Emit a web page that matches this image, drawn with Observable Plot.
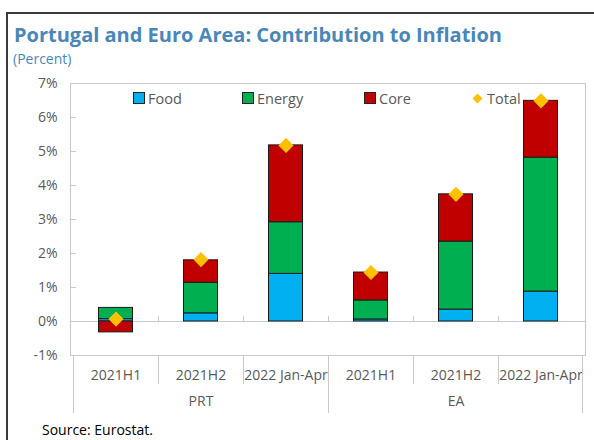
<!DOCTYPE html>
<html>
<head>
<meta charset="utf-8">
<script src="https://cdn.jsdelivr.net/npm/d3@7"></script>
<script src="https://cdn.jsdelivr.net/npm/@observablehq/plot@0.6"></script>
<style>
  html, body { margin: 0; padding: 0; background: #fff; }
  #wrap { position: relative; width: 594px; height: 440px; overflow: hidden; font-family: "Open Sans", "Noto Sans", sans-serif; }
  #outer { position: absolute; left: 6px; top: 12px; width: 600px; height: 440px; border-left: 2px solid #3a3a3a; border-top: 2px solid #3a3a3a; }
  #title { position: absolute; left: 14px; top: 21px; font-size: 20px; font-weight: 700; color: #4a86b8; white-space: nowrap; }
  #subtitle { position: absolute; left: 13px; top: 49px; font-size: 14px; color: #4a86b8; }
  #chart { position: absolute; left: 0; top: 75px; }
  #legend { position: absolute; top: 88px; left: 0; width: 594px; height: 20px; font-size: 14.5px; color: #595959; }
  .li { position: absolute; top: 0; display: flex; align-items: center; height: 20px; }
  .sw { width: 10px; height: 10px; border: 1px solid #222; margin-right: 3px; }
  .dm { width: 7px; height: 7px; background: #FFC000; transform: rotate(45deg); margin-right: 6px; margin-left: 1px; }
  #source { position: absolute; left: 42px; top: 420px; font-size: 14px; color: #000; }
</style>
</head>
<body>
<div id="wrap">
  <div id="outer"></div>
  <div id="title">Portugal and Euro Area: Contribution to Inflation</div>
  <div id="subtitle">(Percent)</div>
  <div id="chart"></div>
  <div id="legend"></div>
  <div id="source">Source: Eurostat.</div>
</div>
<script>
// ---- data ----
const groups = ["PRT", "EA"];
const periods = ["2021H1", "2021H2", "2022 Jan-Apr"];
const components = ["Food", "Energy", "Core"];
const componentColors = ["#00B0F0", "#00B050", "#C00000"];
const food   = [0.07, 0.24, 1.40, 0.06, 0.35, 0.88];
const energy = [0.33, 0.90, 1.52, 0.56, 2.00, 3.94];
const core   = [-0.32, 0.66, 2.26, 0.82, 1.39, 1.67];
const total  = [0.07, 1.82, 5.18, 1.44, 3.74, 6.49];
const yTicks = [-1, 0, 1, 2, 3, 4, 5, 6, 7];

// ---- build tables ----
const keys = [];
groups.forEach(g => periods.forEach(p => keys.push(g + "|" + p)));
const series = [food, energy, core];
const rows = [];
keys.forEach((k, i) => components.forEach((c, j) => rows.push({key: k, component: c, value: series[j][i]})));
const totals = keys.map((k, i) => ({key: k, value: total[i]}));
const groupLabels = groups.map(g => ({key: g + "|" + periods[1], label: g}));

const W = 594, H = 365, mL = 70, mR = 9, mT = 8, mB = 85;
const lineColor = "#c9c9c9";
const textColor = "#595959";

const plot = Plot.plot({
  width: W, height: H,
  marginLeft: mL, marginRight: mR, marginTop: mT, marginBottom: mB,
  style: {fontFamily: "'Open Sans', 'Noto Sans', sans-serif", background: "transparent", overflow: "visible"},
  x: {type: "band", domain: keys, padding: 0},
  y: {domain: [-1, 7]},
  color: {domain: components, range: componentColors},
  marks: [
    Plot.frame({stroke: lineColor}),
    Plot.ruleY([0], {stroke: lineColor}),
    Plot.axisY(yTicks, {tickSize: 0, tickPadding: 13, tickFormat: d => d + "%", fontSize: 14, color: textColor, label: null}),
    Plot.axisY(yTicks, {tickSize: 6, dx: 6, tickFormat: () => "", stroke: lineColor, label: null}),
    Plot.axisX({tickSize: 0, tickPadding: 15, tickFormat: k => k.split("|")[1], fontSize: 14, color: textColor, label: null}),
    Plot.text(groupLabels, {x: "key", text: "label", frameAnchor: "bottom", dy: 50, fontSize: 14, fill: textColor}),
    Plot.barY(rows, {x: "key", y: "value", fill: "component", stroke: "#1a1a1a", strokeWidth: 1, insetLeft: 25.5, insetRight: 25.5}),
    Plot.dot(totals, {x: "key", y: "value", symbol: "diamond2", fill: "#FFC000", r: 6.8})
  ]
});
document.getElementById("chart").appendChild(plot);

// separators drawn from the plot's own scales
const sx = plot.scale("x"), sy = plot.scale("y");
const yBottom = sy.apply(-1), yZero = sy.apply(0);
const g = d3.select(plot).append("g").attr("stroke", lineColor).attr("stroke-width", 1);
keys.forEach((k, i) => {
  const x0 = Math.round(sx.apply(k)) + 0.5;
  const isGroupEdge = i % periods.length === 0;
  g.append("line").attr("x1", x0).attr("x2", x0).attr("y1", yBottom).attr("y2", isGroupEdge ? yBottom + 58 : yBottom + 29);
  if (i > 0) g.append("line").attr("x1", x0).attr("x2", x0).attr("y1", yZero).attr("y2", yZero - 5);
});
const xEnd = Math.round(sx.apply(keys[keys.length - 1]) + sx.bandwidth) - 0.5;
g.append("line").attr("x1", xEnd).attr("x2", xEnd).attr("y1", yBottom).attr("y2", yBottom + 58);

// legend
const legendItems = [
  {label: "Food", color: componentColors[0], x: 133},
  {label: "Energy", color: componentColors[1], x: 242},
  {label: "Core", color: componentColors[2], x: 364},
  {label: "Total", color: "#FFC000", x: 473, diamond: true}
];
const lg = document.getElementById("legend");
legendItems.forEach(it => {
  const d = document.createElement("div");
  d.className = "li";
  d.style.left = it.x + "px";
  const s = document.createElement("div");
  if (it.diamond) { s.className = "dm"; } else { s.className = "sw"; s.style.background = it.color; }
  d.appendChild(s);
  const t = document.createElement("span");
  t.textContent = it.label;
  d.appendChild(t);
  lg.appendChild(d);
});
</script>
</body>
</html>
